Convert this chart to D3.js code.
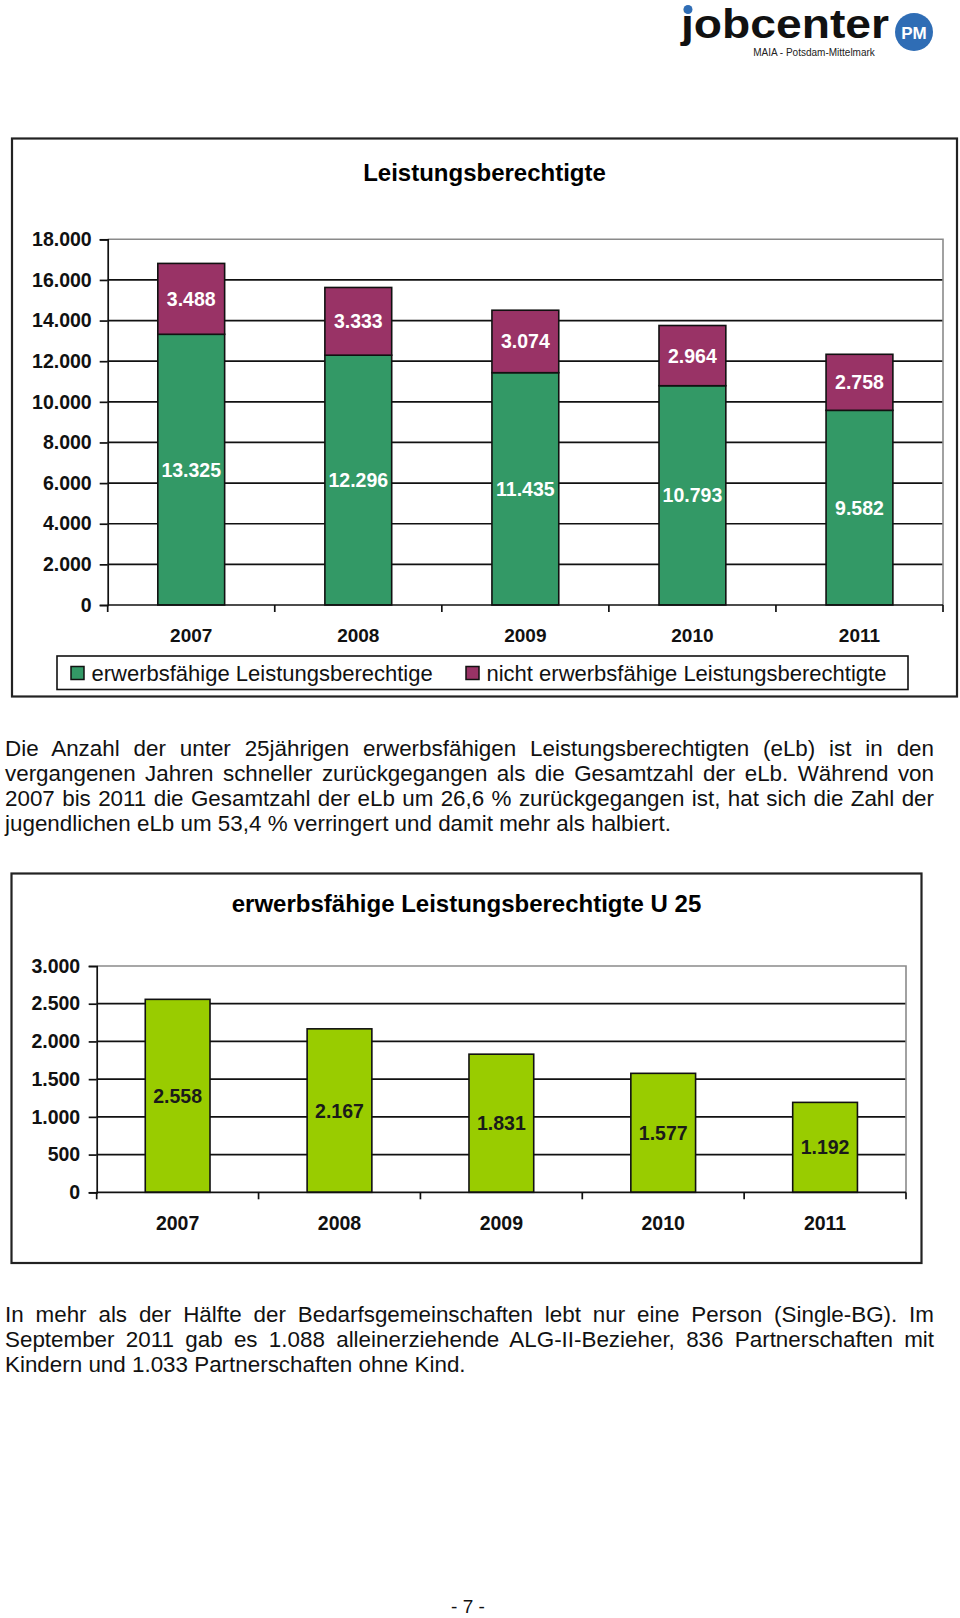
<!DOCTYPE html>
<html>
<head>
<meta charset="utf-8">
<script src="https://cdn.jsdelivr.net/npm/d3@7"></script>
<style>
  html, body { margin:0; padding:0; background:#fff; }
  #page { position:relative; width:960px; height:1618px; overflow:hidden; }
  svg { position:absolute; left:0; top:0; }
  .line { position:absolute; left:5px; width:929px; height:25px; line-height:25px;
          font-family:"Liberation Sans", Arial, sans-serif; font-size:22.4px; color:#111;
          text-align:justify; text-align-last:justify; }
  .line.last { text-align:left; text-align-last:left; }
</style>
</head>
<body>
<div id="page"></div>
<script>
// ---------- data ----------
const years = ["2007", "2008", "2009", "2010", "2011"];
const elb = [13325, 12296, 11435, 10793, 9582];          // erwerbsfähige Leistungsberechtigte
const nelb = [3488, 3333, 3074, 2964, 2758];             // nicht erwerbsfähige Leistungsberechtigte
const u25 = [2558, 2167, 1831, 1577, 1192];              // erwerbsfähige Leistungsberechtigte U 25
const yTicks1 = [0, 2000, 4000, 6000, 8000, 10000, 12000, 14000, 16000, 18000];
const yTicks2 = [0, 500, 1000, 1500, 2000, 2500, 3000];
const seriesNames = ["erwerbsfähige Leistungsberechtige", "nicht erwerbsfähige Leistungsberechtigte"];
const title1 = "Leistungsberechtigte";
const title2 = "erwerbsfähige Leistungsberechtigte U 25";
const para1 = [
  "Die Anzahl der unter 25jährigen erwerbsfähigen Leistungsberechtigten (eLb) ist in den",
  "vergangenen Jahren schneller zurückgegangen als die Gesamtzahl der eLb. Während von",
  "2007 bis 2011 die Gesamtzahl der eLb um 26,6 % zurückgegangen ist, hat sich die Zahl der",
  "jugendlichen eLb um 53,4 % verringert und damit mehr als halbiert."
];
const para2 = [
  "In mehr als der Hälfte der Bedarfsgemeinschaften lebt nur eine Person (Single-BG). Im",
  "September 2011 gab es 1.088 alleinerziehende ALG-II-Bezieher, 836 Partnerschaften mit",
  "Kindern und 1.033 Partnerschaften ohne Kind."
];

// ---------- setup ----------
const FONT = "'Liberation Sans', Arial, sans-serif";
const de = d3.formatLocale({decimal: ",", thousands: ".", grouping: [3], currency: ["", " €"]});
const fmt = de.format(",d");
const C_GREEN = "#339966", C_PURPLE = "#993366", C_LIME = "#99cc00";

const page = d3.select("#page");
const svg = page.append("svg").attr("width", 960).attr("height", 1618);

// ---------- logo ----------
const logo = svg.append("g");
logo.append("text").attr("x", 681).attr("y", 37.5)
  .attr("font-family", FONT).attr("font-weight", "bold").attr("font-size", 40)
  .attr("textLength", 208).attr("lengthAdjust", "spacingAndGlyphs")
  .attr("fill", "#111").text("jobcenter");
logo.append("circle").attr("cx", 688).attr("cy", 9.5).attr("r", 4.5).attr("fill", "#2f6db5");
logo.append("text").attr("x", 814).attr("y", 55.5).attr("text-anchor", "middle")
  .attr("font-family", FONT).attr("font-size", 10).attr("fill", "#222").text("MAIA - Potsdam-Mittelmark");
logo.append("circle").attr("cx", 914).attr("cy", 32).attr("r", 19).attr("fill", "#2f6db5");
logo.append("text").attr("x", 914).attr("y", 38.5).attr("text-anchor", "middle")
  .attr("font-family", FONT).attr("font-weight", "bold").attr("font-size", 17)
  .attr("fill", "#fff").text("PM");

// ---------- chart 1 ----------
(function () {
  const g = svg.append("g");
  g.append("rect").attr("x", 12).attr("y", 138.5).attr("width", 945).attr("height", 558)
    .attr("fill", "#fff").attr("stroke", "#222").attr("stroke-width", 2.2);
  g.append("text").attr("x", 484.5).attr("y", 181).attr("text-anchor", "middle")
    .attr("font-family", FONT).attr("font-weight", "bold").attr("font-size", 24).text(title1);

  const x = d3.scaleBand().domain(years).range([107.7, 943]).paddingInner(0.6).paddingOuter(0.3);
  const y = d3.scaleLinear().domain([0, 18000]).range([605, 239.3]);

  // gridlines
  g.append("g").selectAll("line").data(yTicks1.filter(d => d > 0 && d < 18000)).join("line")
    .attr("x1", x.range()[0]).attr("x2", x.range()[1])
    .attr("y1", d => y(d)).attr("y2", d => y(d))
    .attr("stroke", "#111").attr("stroke-width", 1.7);
  // plot area border top/right (grey)
  g.append("path")
    .attr("d", `M${x.range()[0]},${y(18000)}H${x.range()[1]}V${y(0)}`)
    .attr("fill", "none").attr("stroke", "#8a8a8a").attr("stroke-width", 1.6);

  // y axis
  const ya = g.append("g").attr("transform", `translate(${x.range()[0]},0)`)
    .call(d3.axisLeft(y).tickValues(yTicks1).tickFormat(fmt).tickSize(8).tickPadding(8));
  ya.select(".domain").attr("stroke", "#111").attr("stroke-width", 1.7);
  ya.selectAll(".tick line").attr("stroke", "#111").attr("stroke-width", 1.7);
  ya.selectAll(".tick text").attr("font-family", FONT).attr("font-weight", "bold")
    .attr("font-size", 19.5).attr("fill", "#111");

  // stacked bars
  const stackData = years.map((yr, i) => ({year: yr, elb: elb[i], nelb: nelb[i]}));
  const stack = d3.stack().keys(["elb", "nelb"])(stackData);
  const colors = {elb: C_GREEN, nelb: C_PURPLE};
  stack.forEach(layer => {
    const lg = g.append("g");
    lg.selectAll("rect").data(layer).join("rect")
      .attr("x", d => x(d.data.year)).attr("width", x.bandwidth())
      .attr("y", d => y(d[1])).attr("height", d => y(d[0]) - y(d[1]))
      .attr("fill", colors[layer.key]).attr("stroke", "#111").attr("stroke-width", 1.6);
    lg.selectAll("text").data(layer).join("text")
      .attr("x", d => x(d.data.year) + x.bandwidth() / 2)
      .attr("y", d => (y(d[0]) + y(d[1])) / 2)
      .attr("dy", "0.36em").attr("text-anchor", "middle")
      .attr("font-family", FONT).attr("font-weight", "bold").attr("font-size", 19.5)
      .attr("fill", "#fff").text(d => fmt(d.data[layer.key]));
  });

  // x axis
  g.append("line").attr("x1", x.range()[0]).attr("x2", x.range()[1])
    .attr("y1", y(0)).attr("y2", y(0)).attr("stroke", "#111").attr("stroke-width", 1.7);
  const bounds = [x.range()[0]].concat(years.map(d => x(d) + x.bandwidth() / 2 + x.step() / 2));
  g.append("g").selectAll("line").data(bounds).join("line")
    .attr("x1", d => d).attr("x2", d => d).attr("y1", y(0)).attr("y2", y(0) + 7)
    .attr("stroke", "#111").attr("stroke-width", 1.7);
  g.append("g").selectAll("text").data(years).join("text")
    .attr("x", d => x(d) + x.bandwidth() / 2).attr("y", 642)
    .attr("text-anchor", "middle").attr("font-family", FONT).attr("font-weight", "bold")
    .attr("font-size", 19).attr("fill", "#111").text(d => d);

  // legend
  const lg = g.append("g");
  lg.append("rect").attr("x", 57).attr("y", 656).attr("width", 851).attr("height", 33.5)
    .attr("fill", "#fff").attr("stroke", "#111").attr("stroke-width", 1.6);
  const legendItems = [
    {name: seriesNames[0], color: C_GREEN, x: 71},
    {name: seriesNames[1], color: C_PURPLE, x: 466}
  ];
  legendItems.forEach(it => {
    lg.append("rect").attr("x", it.x).attr("y", 666.5).attr("width", 13).attr("height", 13)
      .attr("fill", it.color).attr("stroke", "#111").attr("stroke-width", 1.5);
    lg.append("text").attr("x", it.x + 20.5).attr("y", 680.5)
      .attr("font-family", FONT).attr("font-size", 22).attr("fill", "#111").text(it.name);
  });
})();

// ---------- chart 2 ----------
(function () {
  const g = svg.append("g");
  g.append("rect").attr("x", 11.5).attr("y", 873.5).attr("width", 910).attr("height", 389.5)
    .attr("fill", "#fff").attr("stroke", "#222").attr("stroke-width", 2.2);
  g.append("text").attr("x", 466.5).attr("y", 911.5).attr("text-anchor", "middle")
    .attr("font-family", FONT).attr("font-weight", "bold").attr("font-size", 24).text(title2);

  const x = d3.scaleBand().domain(years).range([96.7, 906]).paddingInner(0.6).paddingOuter(0.3);
  const y = d3.scaleLinear().domain([0, 3000]).range([1192.3, 966]);

  g.append("g").selectAll("line").data(yTicks2.filter(d => d > 0 && d < 3000)).join("line")
    .attr("x1", x.range()[0]).attr("x2", x.range()[1])
    .attr("y1", d => y(d)).attr("y2", d => y(d))
    .attr("stroke", "#111").attr("stroke-width", 1.7);
  g.append("path")
    .attr("d", `M${x.range()[0]},${y(3000)}H${x.range()[1]}V${y(0)}`)
    .attr("fill", "none").attr("stroke", "#8a8a8a").attr("stroke-width", 1.6);

  const ya = g.append("g").attr("transform", `translate(${x.range()[0]},0)`)
    .call(d3.axisLeft(y).tickValues(yTicks2).tickFormat(fmt).tickSize(8).tickPadding(8.5));
  ya.select(".domain").attr("stroke", "#111").attr("stroke-width", 1.7);
  ya.selectAll(".tick line").attr("stroke", "#111").attr("stroke-width", 1.7);
  ya.selectAll(".tick text").attr("font-family", FONT).attr("font-weight", "bold")
    .attr("font-size", 19.5).attr("fill", "#111");

  const data = years.map((yr, i) => ({year: yr, v: u25[i]}));
  g.append("g").selectAll("rect").data(data).join("rect")
    .attr("x", d => x(d.year)).attr("width", x.bandwidth())
    .attr("y", d => y(d.v)).attr("height", d => y(0) - y(d.v))
    .attr("fill", C_LIME).attr("stroke", "#111").attr("stroke-width", 1.6);
  g.append("g").selectAll("text").data(data).join("text")
    .attr("x", d => x(d.year) + x.bandwidth() / 2)
    .attr("y", d => (y(0) + y(d.v)) / 2).attr("dy", "0.36em").attr("text-anchor", "middle")
    .attr("font-family", FONT).attr("font-weight", "bold").attr("font-size", 19.5)
    .attr("fill", "#1a1a1a").text(d => fmt(d.v));

  g.append("line").attr("x1", x.range()[0]).attr("x2", x.range()[1])
    .attr("y1", y(0)).attr("y2", y(0)).attr("stroke", "#111").attr("stroke-width", 1.7);
  const bounds = [x.range()[0]].concat(years.map(d => x(d) + x.bandwidth() / 2 + x.step() / 2));
  g.append("g").selectAll("line").data(bounds).join("line")
    .attr("x1", d => d).attr("x2", d => d).attr("y1", y(0)).attr("y2", y(0) + 7)
    .attr("stroke", "#111").attr("stroke-width", 1.7);
  g.append("g").selectAll("text").data(years).join("text")
    .attr("x", d => x(d) + x.bandwidth() / 2).attr("y", 1230)
    .attr("text-anchor", "middle").attr("font-family", FONT).attr("font-weight", "bold")
    .attr("font-size", 19.5).attr("fill", "#111").text(d => d);
})();

// ---------- paragraphs ----------
function addPara(lines, firstCenter, step) {
  lines.forEach((t, i) => {
    page.append("div").attr("class", "line" + (i === lines.length - 1 ? " last" : ""))
      .style("top", (firstCenter + i * step - 12.5) + "px").text(t);
  });
}
addPara(para1, 748, 25.1);
addPara(para2, 1314.3, 25.2);

// page number
svg.append("text").attr("x", 468).attr("y", 1613).attr("text-anchor", "middle")
  .attr("font-family", FONT).attr("font-size", 19).attr("fill", "#111").text("- 7 -");
</script>
</body>
</html>
